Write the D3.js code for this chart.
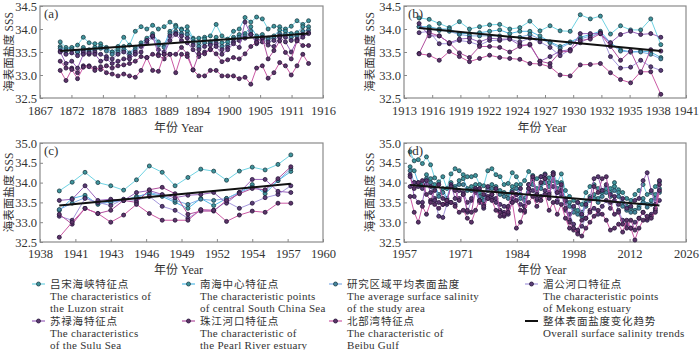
<!DOCTYPE html>
<html>
<head>
<meta charset="utf-8">
<script src="https://cdn.jsdelivr.net/npm/d3@7"></script>
<style>
  body { margin: 0; background: #fff; }
  svg { display: block; }
  text { font-family: "Liberation Serif", "Times New Roman", serif; fill: #333; }
  .zh { font-family: "Noto Sans CJK SC", sans-serif; }
</style>
</head>
<body>
<svg id="chart" width="700" height="350"></svg>
<script>
// ---------------------------------------------------------------------------
// Datos: salinidad superficial anual (SSS) por punto característico
// orden de series: Luzon, centro SCS, promedio, Mekong, Sulu, Perla, Beibu
// ---------------------------------------------------------------------------

// (a) 1870-1913
const yearsA = d3.range(1870, 1914);
const luzonA = [33.72, 33.60, 33.58, 33.65, 33.82, 33.70, 33.68, 33.68, 33.60, 33.50,
  33.62, 33.82, 33.65, 33.95, 34.05, 34.00, 34.08, 34.00, 34.05, 34.15,
  34.08, 34.00, 34.05, 33.80, 33.80, 33.82, 33.85, 34.10, 33.85, 33.78,
  33.95, 34.00, 34.25, 34.15, 34.26, 34.22, 34.00, 34.06, 34.05, 34.00,
  34.06, 34.18, 34.10, 34.18];
const centerA = [33.62, 33.55, 33.60, 33.50, 33.60, 33.55, 33.60, 33.62, 33.58, 33.50,
  33.55, 33.62, 33.48, 33.60, 33.70, 33.80, 33.90, 33.72, 33.65, 33.95,
  34.05, 33.98, 33.95, 33.78, 33.70, 33.78, 33.72, 33.82, 33.70, 33.72,
  33.82, 33.88, 33.90, 34.05, 33.85, 33.88, 33.80, 33.85, 33.98, 33.95,
  33.90, 33.92, 34.05, 34.05];
const averageA = [33.58, 33.52, 33.55, 33.50, 33.55, 33.50, 33.55, 33.58, 33.52, 33.45,
  33.50, 33.55, 33.45, 33.55, 33.65, 33.75, 33.85, 33.65, 33.60, 33.90,
  33.95, 33.90, 33.88, 33.72, 33.62, 33.70, 33.68, 33.75, 33.62, 33.65,
  33.78, 33.82, 33.85, 33.95, 33.80, 33.82, 33.78, 33.80, 33.90, 33.88,
  33.82, 33.85, 33.95, 33.98];
const mekongA = [33.52, 33.45, 33.48, 33.42, 33.50, 33.45, 33.50, 33.45, 33.40, 33.35,
  33.45, 33.50, 33.40, 33.50, 33.62, 33.70, 33.82, 33.55, 33.50, 33.85,
  33.90, 33.85, 33.80, 33.65, 33.55, 33.62, 33.65, 33.68, 33.55, 33.60,
  33.72, 33.75, 33.80, 33.88, 33.75, 33.78, 33.72, 33.75, 33.85, 33.82,
  33.75, 33.78, 33.88, 33.92];
const suluA = [33.50, 33.25, 33.30, 33.15, 33.45, 33.48, 33.45, 33.30, 33.35, 33.25,
  33.30, 33.35, 33.35, 33.45, 33.50, 33.75, 33.85, 33.45, 33.45, 33.75,
  33.88, 33.75, 33.70, 33.55, 33.40, 33.50, 33.55, 33.62, 33.45, 33.55,
  33.68, 33.60, 34.15, 33.88, 33.68, 33.72, 33.65, 33.62, 33.82, 33.72,
  33.50, 33.75, 33.82, 33.90];
const pearlA = [33.30, 33.15, 33.15, 33.05, 33.20, 33.20, 33.15, 33.12, 33.20, 33.15,
  33.20, 33.22, 33.25, 33.30, 33.40, 33.38, 33.45, 33.42, 33.35, 33.45,
  33.45, 33.60, 33.46, 33.11, 33.46, 33.46, 33.56, 33.46, 33.29, 33.33,
  33.38, 33.35, 33.46, 33.62, 33.71, 33.81, 33.35, 33.53, 33.74, 33.49,
  33.35, 33.74, 33.64, 33.64];
const beibuA = [33.10, 32.88, 33.12, 32.92, 33.17, 33.18, 33.10, 33.18, 33.05, 33.02,
  32.98, 33.02, 32.98, 32.95, 33.10, 33.38, 33.10, 33.08, 33.45, 33.45,
  33.05, 33.45, 33.40, 33.11, 32.98, 32.98, 33.10, 33.10, 32.98, 32.98,
  32.98, 32.92, 32.95, 32.80, 33.15, 33.20, 32.93, 33.05, 33.27, 33.20,
  33.00, 33.20, 33.45, 33.25];
const trendA = [33.52, 33.90];

// (b) 1914-1938
const yearsB = d3.range(1914, 1939);
const luzonB = [34.24, 34.21, 34.12, 34.03, 34.16, 34.00, 34.05, 34.09, 34.10, 34.00,
  34.03, 34.17, 33.96, 34.07, 33.96, 33.95, 34.31, 34.22, 34.28, 33.89,
  34.07, 33.98, 33.98, 34.22, 33.66];
const centerB = [34.05, 34.05, 34.00, 34.00, 33.90, 33.90, 33.92, 33.95, 33.98, 33.90,
  33.95, 33.95, 33.85, 33.72, 33.62, 33.72, 33.82, 33.88, 33.95, 33.70,
  33.55, 33.50, 33.52, 33.50, 33.38];
const averageB = [34.05, 34.00, 33.97, 33.95, 33.88, 33.85, 33.85, 33.85, 33.85, 33.82,
  33.82, 33.88, 33.78, 33.70, 33.58, 33.70, 33.78, 33.85, 33.90, 33.68,
  33.52, 33.50, 33.50, 33.45, 33.35];
const mekongB = [33.92, 33.95, 33.68, 33.68, 33.75, 33.72, 33.65, 33.75, 33.75, 33.78,
  33.72, 33.80, 33.72, 33.60, 33.42, 33.55, 33.70, 33.82, 33.92, 33.40,
  33.15, 33.17, 33.32, 33.18, 33.10];
const suluB = [34.12, 33.85, 33.85, 33.70, 33.78, 33.80, 33.72, 33.80, 33.78, 33.78,
  33.65, 33.65, 33.30, 33.40, 33.52, 33.55, 33.90, 33.90, 33.90, 33.70,
  33.88, 33.95, 33.88, 33.90, 33.82];
const pearlB = [33.47, 33.92, 33.85, 33.70, 33.48, 33.38, 33.62, 33.62, 33.60, 33.50,
  33.62, 33.67, 33.30, 33.25, 33.50, 33.52, 33.75, 33.78, 33.90, 33.62,
  33.32, 33.52, 33.05, 33.55, 33.52];
const beibuB = [33.46, 33.43, 33.32, 33.51, 33.40, 33.29, 33.36, 33.43, 33.38, 33.36,
  33.34, 33.25, 33.24, 33.18, 33.00, 32.98, 33.22, 33.23, 33.25, 33.05,
  32.90, 32.83, 33.07, 33.07, 32.58];
const trendB = [34.02, 33.52];

// (c) 1939-1957
const yearsC = d3.range(1939, 1958);
const luzonC = [33.79, 34.01, 34.26, 34.00, 33.92, 33.81, 34.07, 34.42, 34.26, 33.92,
  34.13, 34.34, 34.29, 34.06, 34.29, 34.39, 34.32, 34.46, 34.70];
const centerC = [33.30, 33.60, 33.68, 33.45, 33.52, 33.55, 33.65, 33.72, 33.65, 33.50,
  33.35, 33.60, 33.42, 33.60, 33.75, 33.95, 33.72, 34.05, 34.28];
const averageC = [33.32, 33.48, 33.62, 33.48, 33.50, 33.55, 33.62, 33.75, 33.68, 33.55,
  33.45, 33.58, 33.55, 33.60, 33.75, 33.88, 33.80, 34.05, 34.35];
const mekongC = [33.15, 33.05, 33.60, 33.50, 33.42, 33.58, 33.55, 33.65, 33.40, 33.30,
  33.10, 33.30, 33.30, 33.52, 33.35, 33.48, 33.62, 33.70, 33.92];
const suluC = [33.55, 33.58, 33.92, 33.55, 33.58, 33.55, 33.75, 33.80, 33.70, 33.62,
  33.68, 33.70, 33.75, 33.48, 33.75, 34.08, 34.08, 33.78, 33.75];
const pearlC = [33.20, 32.95, 33.35, 33.22, 33.30, 33.55, 33.50, 33.82, 33.88, 33.72,
  33.20, 33.28, 33.28, 33.55, 33.72, 33.85, 33.82, 34.10, 34.40];
const beibuC = [32.62, 33.00, 33.35, 33.22, 33.00, 33.18, 33.45, 33.22, 33.05, 33.05,
  33.05, 33.32, 33.30, 33.02, 33.18, 33.28, 33.25, 33.48, 33.48];
const trendC = [33.42, 33.97];

// (d) 1958-2019
const yearsD = d3.range(1958, 2020);
const luzonD = [34.78, 34.55, 34.58, 34.48, 34.65, 34.45, 34.12, 34.02, 34.15, 33.85,
  34.22, 34.35, 34.30, 34.20, 34.15, 34.15, 34.18, 33.95, 33.92, 34.30,
  34.35, 34.20, 34.15, 33.95, 33.98, 34.25, 34.15, 33.95, 34.05, 34.28,
  34.18, 34.10, 34.15, 34.22, 34.12, 34.25, 34.00, 34.22, 33.80, 33.65,
  33.55, 33.50, 33.45, 33.75, 33.90, 33.95, 33.85, 33.80, 33.90, 33.85,
  34.00, 33.82, 33.75, 33.60, 33.55, 33.70, 33.80, 33.95, 33.70, 33.75,
  33.90, 34.02];
const centerD = [34.40, 34.30, 34.00, 33.95, 34.20, 34.10, 33.95, 33.70, 33.85, 33.60,
  34.00, 33.90, 34.05, 34.10, 33.85, 33.90, 33.95, 33.75, 33.60, 33.85,
  33.95, 33.90, 33.80, 33.75, 33.70, 33.90, 33.95, 33.70, 33.60, 33.95,
  34.05, 33.85, 33.95, 34.10, 34.00, 34.20, 33.85, 34.00, 33.60, 33.50,
  33.35, 33.30, 33.25, 33.50, 33.65, 33.70, 33.60, 33.75, 33.85, 33.75,
  33.90, 33.75, 33.50, 33.40, 33.35, 33.30, 33.40, 33.60, 33.45, 33.55,
  33.70, 33.85];
const averageD = [34.30, 34.00, 33.95, 33.90, 34.10, 34.00, 33.85, 33.65, 33.75, 33.55,
  33.90, 33.85, 33.95, 33.95, 33.80, 33.80, 33.85, 33.65, 33.55, 33.80,
  33.85, 33.80, 33.70, 33.65, 33.60, 33.80, 33.85, 33.60, 33.55, 33.85,
  33.95, 33.75, 33.85, 34.00, 33.90, 34.05, 33.75, 33.90, 33.50, 33.40,
  33.25, 33.20, 33.15, 33.40, 33.55, 33.60, 33.50, 33.65, 33.75, 33.65,
  33.80, 33.65, 33.40, 33.30, 33.25, 33.25, 33.35, 33.50, 33.38, 33.45,
  33.60, 33.75];
const mekongD = [33.90, 34.00, 33.90, 33.85, 33.95, 33.90, 33.60, 33.15, 33.12, 33.45,
  33.50, 33.45, 33.60, 33.70, 33.25, 33.55, 33.75, 33.50, 33.35, 33.60,
  33.70, 33.60, 33.45, 33.40, 33.35, 33.60, 33.70, 33.45, 33.40, 33.75,
  33.80, 33.55, 33.65, 33.80, 33.75, 33.90, 33.55, 33.70, 33.30, 33.20,
  32.95, 32.75, 32.90, 33.10, 33.30, 33.35, 33.20, 33.40, 33.55, 33.35,
  33.55, 33.30, 33.05, 32.95, 32.85, 33.00, 33.10, 33.25, 33.05, 33.20,
  33.35, 33.55];
const suluD = [34.20, 33.65, 33.50, 33.50, 34.05, 33.75, 33.55, 33.50, 33.45, 33.50,
  33.95, 33.60, 33.80, 33.75, 33.50, 33.60, 33.85, 33.55, 33.45, 33.90,
  33.60, 33.50, 33.30, 33.25, 33.20, 33.50, 33.70, 33.85, 33.40, 33.95,
  34.10, 33.60, 34.15, 34.20, 33.60, 34.25, 33.50, 33.80, 33.55, 33.05,
  33.40, 33.50, 33.20, 33.45, 33.60, 34.10, 34.15, 33.80, 33.95, 33.70,
  33.65, 33.45, 33.60, 33.35, 33.40, 33.55, 33.60, 34.05, 34.25, 33.80,
  33.45, 34.05];
const pearlD = [34.15, 33.85, 34.00, 34.05, 33.70, 33.55, 33.80, 33.95, 33.60, 33.55,
  33.90, 33.80, 33.55, 33.70, 33.30, 33.25, 33.80, 33.85, 33.70, 33.65,
  33.70, 33.85, 33.25, 33.15, 33.40, 33.75, 33.55, 33.30, 33.25, 33.85,
  34.15, 33.70, 34.00, 34.10, 33.70, 34.20, 33.75, 33.95, 33.35, 33.00,
  32.80, 32.80, 33.05, 33.10, 33.25, 33.90, 33.75, 34.10, 34.15, 33.50,
  33.20, 33.25, 32.95, 32.85, 33.05, 32.80, 33.10, 33.25, 33.10, 33.15,
  33.30, 33.95];
const beibuD = [33.65, 33.25, 33.00, 33.40, 33.20, 33.50, 33.45, 33.35, 33.45, 33.55,
  33.50, 33.40, 33.25, 33.30, 33.10, 33.00, 33.30, 33.55, 33.40, 33.60,
  33.55, 33.30, 33.15, 33.20, 33.25, 33.50, 32.85, 33.00, 33.30, 33.50,
  33.65, 33.40, 33.55, 33.70, 33.30, 33.50, 33.20, 33.45, 33.10, 32.85,
  32.85, 32.70, 32.65, 32.85, 33.00, 33.15, 33.30, 33.20, 33.05, 32.80,
  32.85, 32.95, 32.75, 33.05, 32.85, 32.55, 32.85, 33.05, 33.15, 33.10,
  33.25, 33.80];
const trendD = [33.94, 33.42];

// etiquetas de los ejes
const xLabelsA = ["1867", "1872", "1878", "1883", "1889", "1894", "1900", "1905", "1911", "1916"];
const xLabelsB = ["1913", "1916", "1919", "1922", "1924", "1927", "1930", "1932", "1935", "1938", "1941"];
const xLabelsC = ["1938", "1941", "1943", "1946", "1949", "1952", "1954", "1957", "1960"];
const xLabelsD = ["1957", "1971", "1984", "1998", "2012", "2026"];
const yTicksAB = [32.5, 33.0, 33.5, 34.0, 34.5];
const yTicksCD = [32.5, 33.0, 33.5, 34.0, 34.5, 35.0];

const legendZh = ["吕宋海峡特征点", "南海中心特征点", "研究区域平均表面盐度", "湄公河口特征点",
  "苏禄海特征点", "珠江河口特征点", "北部湾特征点", "整体表面盐度变化趋势"];
const legendEn = [
  ["The characteristics of", "the Luzon  strait"],
  ["The characteristic points", "of central South China Sea"],
  ["The average surface salinity", "of the study area"],
  ["The characteristic points", "of Mekong estuary"],
  ["The characteristics", "of the Sulu Sea"],
  ["The characteristic of", "the Pearl River estuary"],
  ["The characteristic of", "Beibu Gulf"],
  ["Overall surface salinity trends"]
];

// ---------------------------------------------------------------------------
// Estilos
// ---------------------------------------------------------------------------
const lineColors = ["#6fd3e3", "#52b9e6", "#82aee8", "#a497dc", "#9a64bd", "#b2509f", "#cc5aa5"];
const dotFill   = ["#3f959c", "#3f959c", "#45879f", "#5b3f78", "#5b3a72", "#5e3468", "#5e3468"];
const dotStroke = ["#1d3d48", "#1d3d48", "#1d3d48", "#24143a", "#24143a", "#24143a", "#24143a"];

const svg = d3.select("#chart");

/**
 * Dibuja un panel con sus series, ejes y tendencia.
 */
function drawPanel(p) {
    const x = d3.scaleLinear().domain(p.xDomain).range([p.left, p.right]);
    const y = d3.scaleLinear().domain(p.yDomain).range([p.bottom, p.top]);
    const g = svg.append("g");

    const n = p.xLabels.length - 1;
    const xTickVals = d3.range(n + 1).map(i => p.xDomain[0] + i * (p.xDomain[1] - p.xDomain[0]) / n);

    const xAxis = g.append("g")
        .attr("transform", `translate(0,${p.bottom})`)
        .call(d3.axisBottom(x).tickValues(xTickVals).tickFormat((d, i) => p.xLabels[i])
            .tickSizeInner(-3).tickSizeOuter(0).tickPadding(p.xTickPad));
    const yAxis = g.append("g")
        .attr("transform", `translate(${p.left},0)`)
        .call(d3.axisLeft(y).tickValues(p.yTicks).tickFormat(d3.format(".1f"))
            .tickSizeInner(-3).tickSizeOuter(0).tickPadding(3));
    [xAxis, yAxis].forEach(a => {
        a.select(".domain").remove();
        a.selectAll("line").attr("stroke", "#888");
        a.selectAll("text").attr("fill", "#333")
            .style("font-family", '"Liberation Serif", serif')
            .style("font-size", "12.5px");
    });

    // marco
    g.append("rect")
        .attr("x", p.left).attr("y", p.top)
        .attr("width", p.right - p.left).attr("height", p.bottom - p.top)
        .attr("fill", "none").attr("stroke", "#8a8a8a").attr("stroke-width", 1.2);

    // series (valores anuales dibujados a mitad de año)
    const line = d3.line().x(d => x(d.year + 0.5)).y(d => y(d.v));
    p.series.forEach((vals, k) => {
        const pts = vals.map((v, i) => ({ year: p.years[i], v: v }));
        g.append("path").datum(pts)
            .attr("d", line)
            .attr("fill", "none")
            .attr("stroke", lineColors[k])
            .attr("stroke-width", 1);
        g.selectAll(null).data(pts).enter().append("circle")
            .attr("cx", d => x(d.year + 0.5))
            .attr("cy", d => y(d.v))
            .attr("r", 2)
            .attr("fill", dotFill[k])
            .attr("stroke", dotStroke[k])
            .attr("stroke-width", 0.8);
    });

    // tendencia general
    const yrs = [p.years[0], p.years[p.years.length - 1]];
    g.append("line")
        .attr("x1", x(yrs[0] + 0.5)).attr("y1", y(p.trend[0]))
        .attr("x2", x(yrs[1] + 0.5)).attr("y2", y(p.trend[1]))
        .attr("stroke", "#111").attr("stroke-width", 2);

    // etiqueta del panel
    g.append("text")
        .attr("x", p.left + 4).attr("y", p.top + 12)
        .style("font-size", "13px")
        .text(p.label);

    // títulos de ejes
    g.append("text")
        .attr("transform", `translate(${p.yTitleX},${(p.top + p.bottom) / 2}) rotate(-90)`)
        .attr("text-anchor", "middle")
        .attr("dy", "0.35em")
        .style("font-size", "11.5px")
        .html('<tspan class="zh">海表面盐度</tspan> SSS');
    g.append("text")
        .attr("x", (p.left + p.right) / 2 - 3)
        .attr("y", p.bottom + p.xTitleGap)
        .attr("text-anchor", "middle")
        .style("font-size", "12px")
        .html('<tspan class="zh">年份</tspan> Year');
}

const panels = [
    { label: "(a)", years: yearsA, xDomain: [1867, 1916], xLabels: xLabelsA, yDomain: [32.5, 34.5], yTicks: yTicksAB,
      series: [luzonA, centerA, averageA, mekongA, suluA, pearlA, beibuA], trend: trendA,
      left: 40, right: 323, top: 6, bottom: 98, yTitleX: 9, xTitleGap: 34, xTickPad: 8 },
    { label: "(b)", years: yearsB, xDomain: [1913, 1941], xLabels: xLabelsB, yDomain: [32.5, 34.5], yTicks: yTicksAB,
      series: [luzonB, centerB, averageB, mekongB, suluB, pearlB, beibuB], trend: trendB,
      left: 404, right: 686, top: 6, bottom: 98, yTitleX: 370, xTitleGap: 34, xTickPad: 8 },
    { label: "(c)", years: yearsC, xDomain: [1938, 1960], xLabels: xLabelsC, yDomain: [32.5, 35.0], yTicks: yTicksCD,
      series: [luzonC, centerC, averageC, mekongC, suluC, pearlC, beibuC], trend: trendC,
      left: 40, right: 323, top: 143, bottom: 242, yTitleX: 9, xTitleGap: 32, xTickPad: 7 },
    { label: "(d)", years: yearsD, xDomain: [1957, 2026], xLabels: xLabelsD, yDomain: [32.5, 35.0], yTicks: yTicksCD,
      series: [luzonD, centerD, averageD, mekongD, suluD, pearlD, beibuD], trend: trendD,
      left: 404, right: 686, top: 143, bottom: 242, yTitleX: 370, xTitleGap: 32, xTickPad: 7 }
];
panels.forEach(drawPanel);

// ---------------------------------------------------------------------------
// Leyenda
// ---------------------------------------------------------------------------
const legendCols = [32, 182, 329, 525];
const legendRows = [284, 321];
const legend = svg.append("g");
legendZh.forEach((zh, i) => {
    const cx = legendCols[i % 4], cy = legendRows[Math.floor(i / 4)];
    const item = legend.append("g").attr("transform", `translate(${cx},${cy})`);
    if (i < 7) {
        item.append("line").attr("x1", 0).attr("x2", 13).attr("y1", 0).attr("y2", 0)
            .attr("stroke", lineColors[i]).attr("stroke-width", 1.2);
        item.append("circle").attr("cx", 6.5).attr("cy", 0).attr("r", 2)
            .attr("fill", dotFill[i]).attr("stroke", dotStroke[i]).attr("stroke-width", 0.8);
    } else {
        item.append("line").attr("x1", 0).attr("x2", 13).attr("y1", 0).attr("y2", 0)
            .attr("stroke", "#111").attr("stroke-width", 2);
    }
    item.append("text").attr("class", "zh")
        .attr("x", 18).attr("y", 3.5)
        .style("font-size", "10.5px").style("letter-spacing", "0.8px")
        .text(zh);
    legendEn[i].forEach((t, j) => {
        item.append("text")
            .attr("x", 18).attr("y", 16 + j * 11.5)
            .style("font-size", "11px").style("letter-spacing", "0.3px")
            .text(t);
    });
});
</script>
</body>
</html>
